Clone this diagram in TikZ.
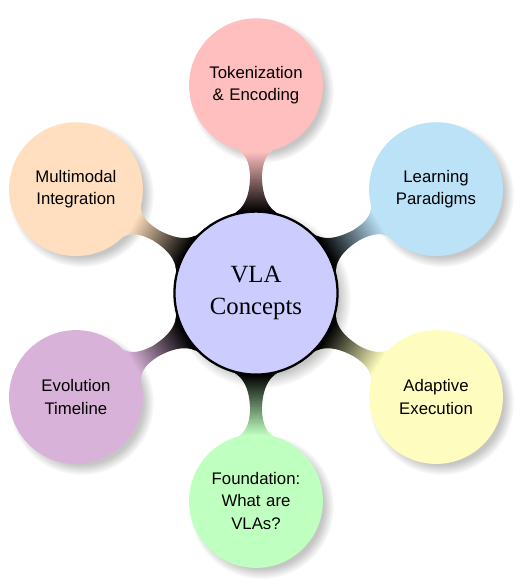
\documentclass[tikz,border=0pt]{standalone}
\usepackage{fontspec}
\setmainfont{Liberation Serif}
\setsansfont{Liberation Sans}
\usetikzlibrary{mindmap,shadows}
\definecolor{skyblue}{RGB}{187,226,247}

\begin{document}
\begin{tikzpicture}[mindmap, concept color=black, text=black,
		every node/.style={concept, circular drop shadow={shadow xshift=.12cm, shadow yshift=-.12cm, opacity=.45}},
		root concept/.append style={fill=blue!20, draw=black, line width=1.6pt, minimum size=4cm, text width=3cm, font=\LARGE},
		level 1/.append style={level distance=5.1cm, sibling angle=60},
		level 1 concept/.append style={minimum size=3.24cm, text width=2.4cm, font=\sffamily\fontsize{11.7}{15.5}\selectfont}]
		\useasboundingbox (-6.28,-7.21) rectangle (6.70,7.19);
		\node[root concept]	(vla)	{VLA Concepts}
			child[grow=90, concept color=red!25]		{node (tok)		{Tokenization \& Encoding}}
			child[grow=30, concept color=skyblue]		{node (learn)	{Learning Paradigms}}
			child[grow=-30, concept color=yellow!25]	{node (adapt)	{Adaptive Execution}}
			child[grow=-90, concept color=green!25]		{node (found)	{Foundation: What are VLAs?}}
			child[grow=210, concept color=violet!30]	{node (evol)	{Evolution Timeline}}
			child[grow=150, concept color=orange!25]	{node (multi)	{Multimodal Integration}};
	\end{tikzpicture}
\end{document}
